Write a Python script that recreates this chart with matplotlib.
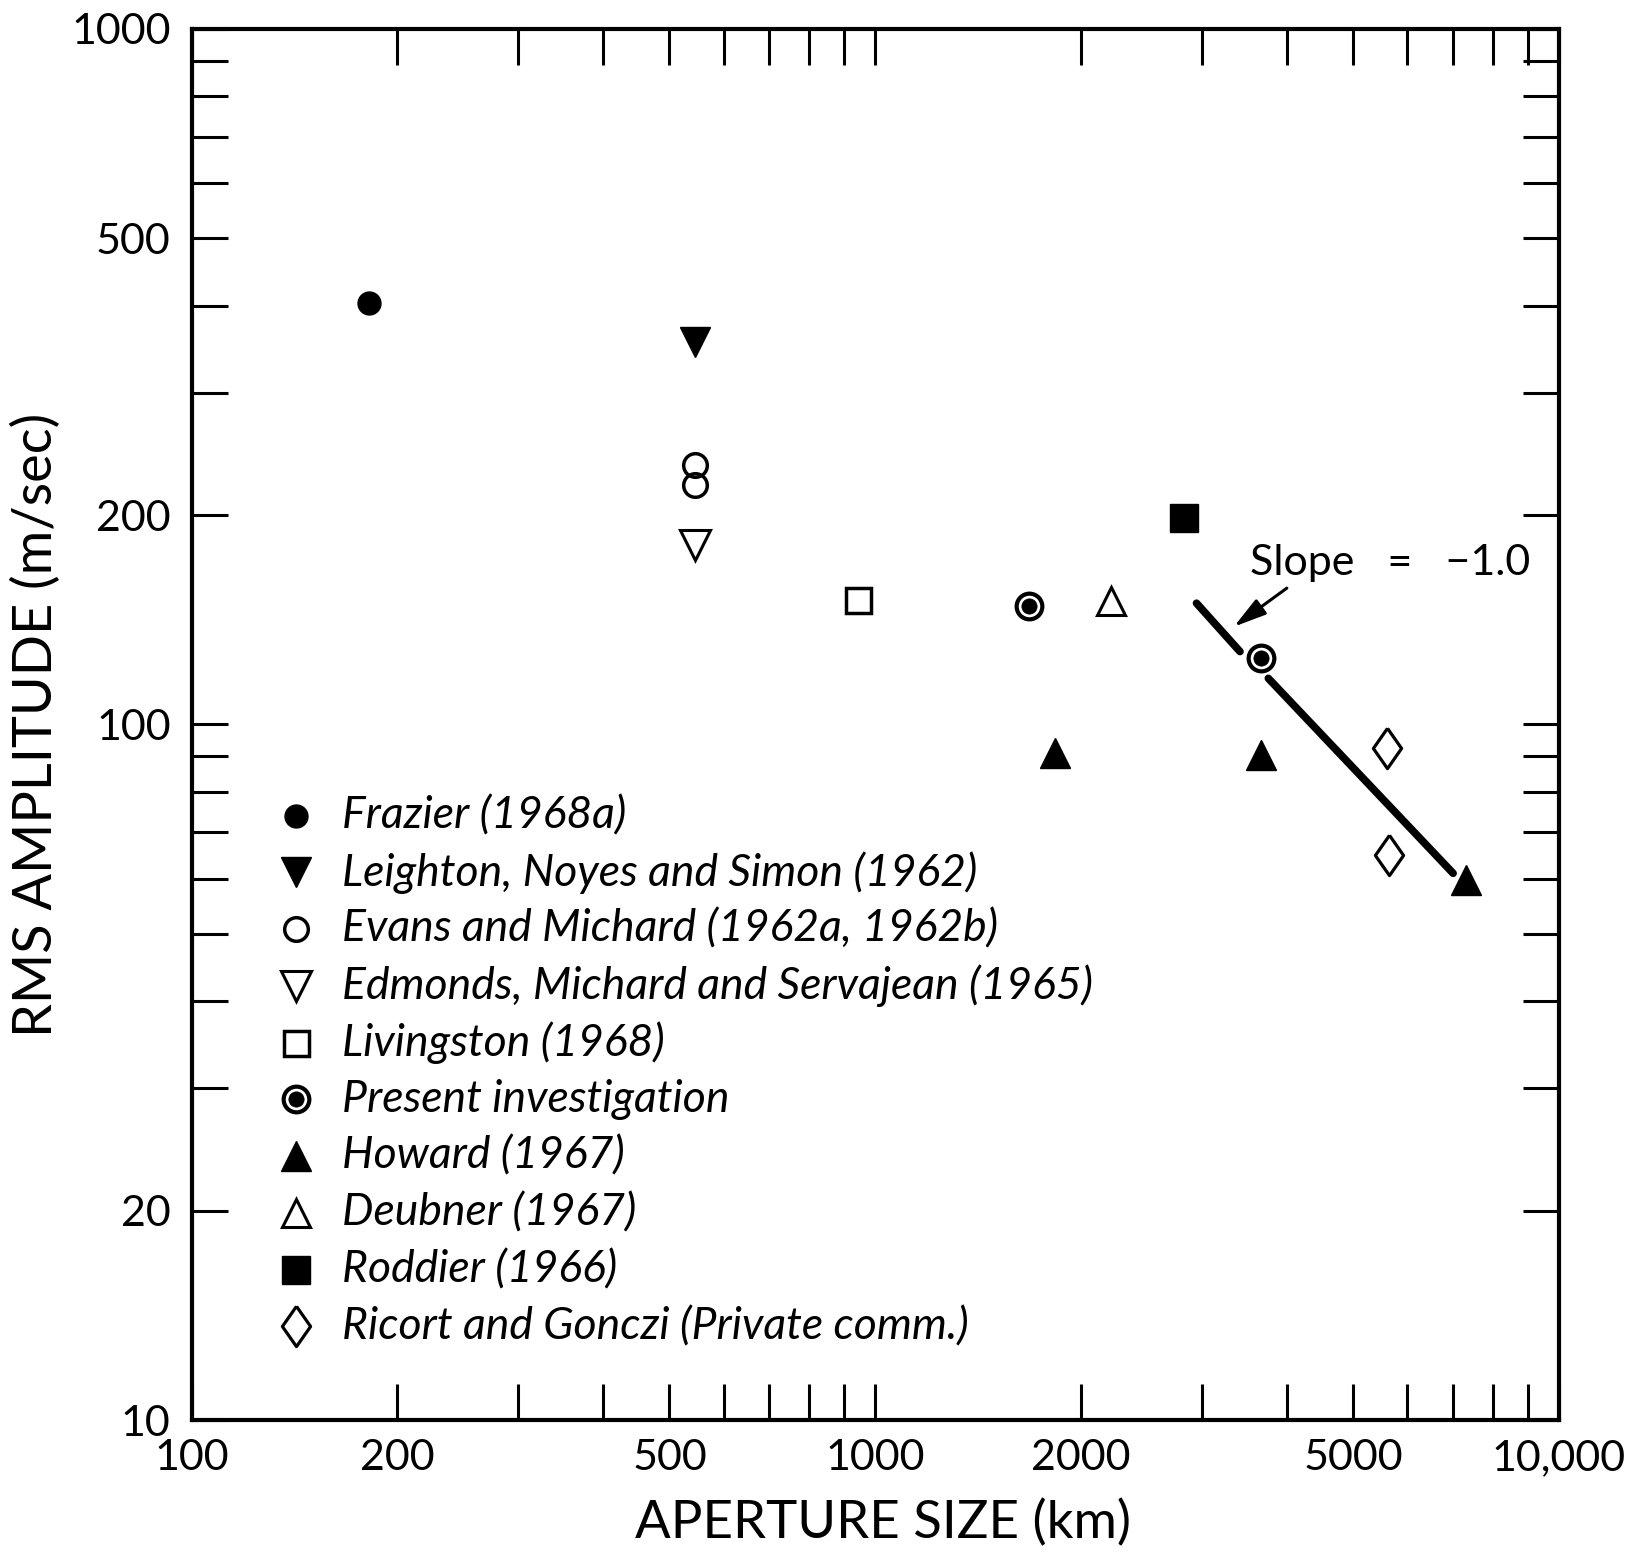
import matplotlib
matplotlib.use('Agg')
from matplotlib import pyplot as plt

plt.rcParams['font.family'] = ['Lato', 'DejaVu Sans']

### values (aperture size km, rms amplitude m/sec)
frazier_x = [182]
frazier_y = [403]
leighton_x = [545]
leighton_y = [355]
evans_x = [545, 545]
evans_y = [236, 221]
edmonds_x = [545]
edmonds_y = [181]
livingston_x = [944]
livingston_y = [151]
present_x = [1680, 3660]
present_y = [148, 124.5]
howard_x = [1830, 3660, 7300]
howard_y = [91, 90.5, 59.7]
deubner_x = [2210]
deubner_y = [150.5]
roddier_x = [2830]
roddier_y = [198]
ricort_x = [5610, 5650]
ricort_y = [92.5, 65]

# slope = -1 line, broken around the present investigation point
slope_x1 = [2950, 3415]
slope_y1 = [149.4, 127.3]
slope_x2 = [3757, 7000]
slope_y2 = [116.5, 61.1]

legend_labels = ["Frazier (1968a)",
                 "Leighton, Noyes and Simon (1962)",
                 "Evans and Michard (1962a, 1962b)",
                 "Edmonds, Michard and Servajean (1965)",
                 "Livingston (1968)",
                 "Present investigation",
                 "Howard (1967)",
                 "Deubner (1967)",
                 "Roddier (1966)",
                 "Ricort and Gonczi (Private comm.)"]

xtick_vals = [100, 200, 300, 400, 500, 600, 700, 800, 900,
              1000, 2000, 3000, 4000, 5000, 6000, 7000, 8000, 9000, 10000]
xtick_labels = ['100', '200', '', '', '500', '', '', '', '',
                '1000', '2000', '', '', '5000', '', '', '', '', '10,000']
ytick_vals = [10, 20, 30, 40, 50, 60, 70, 80, 90,
              100, 200, 300, 400, 500, 600, 700, 800, 900, 1000]
ytick_labels = ['10', '20', '', '', '', '', '', '', '',
                '100', '200', '', '', '500', '', '', '', '', '1000']

### marker styles
diamond = [(0, 1), (0.7, 0), (0, -1), (-0.7, 0), (0, 1)]
styles = [dict(marker='o', ms=16.5, mfc='k', mec='k', mew=1),
          dict(marker='v', ms=22, mfc='k', mec='k', mew=1),
          dict(marker='o', ms=17, mfc='none', mec='k', mew=2.5),
          dict(marker='v', ms=21, mfc='none', mec='k', mew=2.2),
          dict(marker='s', ms=18, mfc='none', mec='k', mew=2.5),
          None,
          dict(marker='^', ms=22, mfc='k', mec='k', mew=1),
          dict(marker='^', ms=20, mfc='none', mec='k', mew=2.2),
          dict(marker='s', ms=20, mfc='k', mec='k', mew=1),
          dict(marker=diamond, ms=29, mfc='none', mec='k', mew=2.3)]
ring = dict(marker='o', ms=18.5, mfc='white', mec='k', mew=3)
dot = dict(marker='o', ms=11, mfc='k', mec='k', mew=0.5)

fig = plt.figure(figsize=(16.33, 15.56), dpi=100)
ax = fig.add_axes([0.1173, 0.0874, 0.8374, 0.894])
ax.set_xscale('log')
ax.set_yscale('log')
ax.set_xlim(100, 10000)
ax.set_ylim(10, 1000)

ax.plot(slope_x1, slope_y1, color='k', lw=5.5, solid_capstyle='round', zorder=2)
ax.plot(slope_x2, slope_y2, color='k', lw=5.5, solid_capstyle='round', zorder=2)

series = [(frazier_x, frazier_y), (leighton_x, leighton_y), (evans_x, evans_y),
          (edmonds_x, edmonds_y), (livingston_x, livingston_y), (present_x, present_y),
          (howard_x, howard_y), (deubner_x, deubner_y), (roddier_x, roddier_y),
          (ricort_x, ricort_y)]
for (xs, ys), st in zip(series, styles):
    if st is None:
        ax.plot(xs, ys, ls='none', zorder=3, **ring)
        ax.plot(xs, ys, ls='none', zorder=4, **dot)
    else:
        ax.plot(xs, ys, ls='none', zorder=3, **st)

###Slope annotation
ax.annotate('', xy=(3321, 137.5), xytext=(4029, 157.9),
            arrowprops=dict(arrowstyle='-|>,head_length=0.9,head_width=0.25',
                            color='k', lw=2.2, mutation_scale=22))
ax.text(3532, 164, 'Slope   =   \u22121.0', fontsize=31, ha='left', va='baseline')

###Legend drawn by hand inside the axes
for i, (label, st) in enumerate(zip(legend_labels, styles)):
    yy = 0.4345 - i * 0.0408
    if st is None:
        ax.plot([0.0763], [yy], transform=ax.transAxes, ls='none', **ring)
        ax.plot([0.0763], [yy], transform=ax.transAxes, ls='none', **dot)
    else:
        ax.plot([0.0763], [yy], transform=ax.transAxes, ls='none', **st)
    ax.text(0.1098, yy, label, transform=ax.transAxes, fontsize=32,
            style='italic', ha='left', va='center')

###Axes properties
ax.minorticks_off()
ax.set_xticks(xtick_vals)
ax.set_xticklabels(xtick_labels)
ax.set_yticks(ytick_vals)
ax.set_yticklabels(ytick_labels)
ax.tick_params(which='both', direction='in', length=26, width=2.2,
               top=True, right=True, labelsize=31)
ax.tick_params(axis='x', pad=14)
ax.tick_params(axis='y', pad=15)
for sp in ax.spines.values():
    sp.set_linewidth(3)

ax.set_xlabel('APERTURE SIZE (km)', fontsize=38, va='center')
ax.xaxis.set_label_coords(0.506, -0.074)
ax.set_ylabel('RMS AMPLITUDE (m/sec)', fontsize=39, va='center')
ax.yaxis.set_label_coords(-0.114, 0.5)

plt.savefig('out.png', dpi=100)
